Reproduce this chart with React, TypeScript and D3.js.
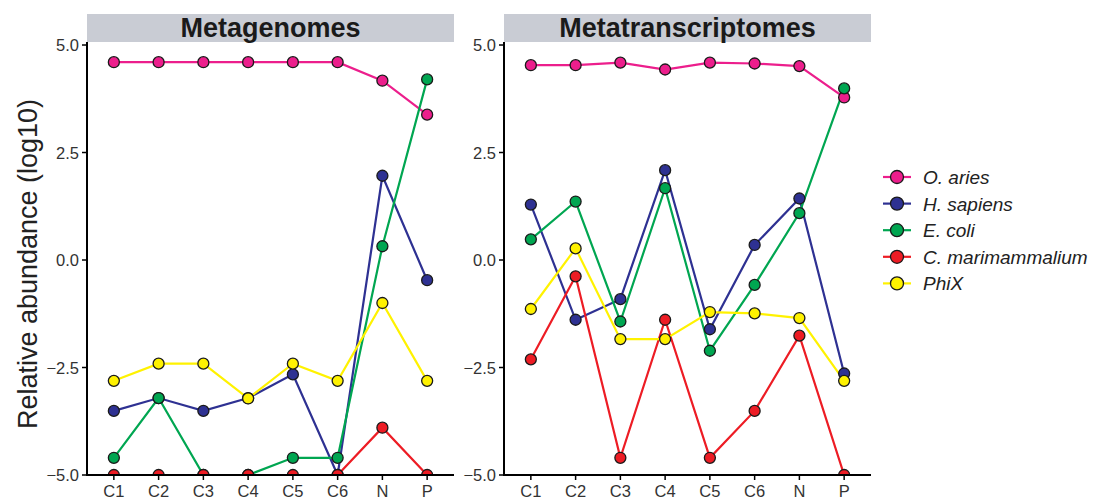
import React from "react";
import * as d3 from "d3";

const categories = ["C1", "C2", "C3", "C4", "C5", "C6", "N", "P"];
const species = ["O. aries", "H. sapiens", "E. coli", "C. marimammalium", "PhiX"];
const colors = ["#EC1E8C", "#2E3192", "#00A651", "#ED1C24", "#FFF200"];
const yTicks = [5.0, 2.5, 0.0, -2.5, -5.0];
const panels = ["Metagenomes", "Metatranscriptomes"];

// Metagenomes
const mgOAries = [4.6, 4.6, 4.6, 4.6, 4.6, 4.6, 4.17, 3.38];
const mgHSapiens = [-3.51, -3.21, -3.51, -3.21, -2.66, -5.0, 1.96, -0.47];
const mgEColi = [-4.6, -3.21, -5.0, -5.0, -4.6, -4.6, 0.32, 4.2];
const mgCMari = [-5.0, -5.0, -5.0, -5.0, -5.0, -5.0, -3.9, -5.0];
const mgPhiX = [-2.81, -2.41, -2.41, -3.22, -2.41, -2.81, -1.0, -2.81];

// Metatranscriptomes
const mtOAries = [4.53, 4.53, 4.59, 4.43, 4.59, 4.57, 4.51, 3.78];
const mtHSapiens = [1.29, -1.39, -0.91, 2.09, -1.61, 0.35, 1.43, -2.64];
const mtEColi = [0.48, 1.36, -1.43, 1.67, -2.11, -0.58, 1.09, 3.99];
const mtCMari = [-2.31, -0.38, -4.6, -1.39, -4.6, -3.51, -1.76, -5.0];
const mtPhiX = [-1.14, 0.27, -1.84, -1.84, -1.21, -1.24, -1.35, -2.81];

const panelData = [
  [mgOAries, mgHSapiens, mgEColi, mgCMari, mgPhiX],
  [mtOAries, mtHSapiens, mtEColi, mtCMari, mtPhiX],
];

const FONT = "'Liberation Sans', Arial, Helvetica, sans-serif";

export default function App() {
  const W = 1093;
  const H = 501;
  const panelLefts = [87, 504];
  const panelW = 367;
  const top = 42;
  const bottom = 475;
  const y = d3.scaleLinear().domain([-5, 5.07]).range([bottom, top]);

  return (
    <svg width={W} height={H} style={{ position: "absolute", left: 0, top: 0, fontFamily: FONT }}>
      <rect width={W} height={H} fill="#fff" />
      <text
        transform={`translate(37,264) rotate(-90)`}
        textAnchor="middle"
        fontSize={27}
        fill="#222"
      >
        Relative abundance (log10)
      </text>
      {panels.map((title, pi) => {
        const left = panelLefts[pi];
        const x = d3
          .scalePoint<string>()
          .domain(categories)
          .range([left, left + panelW])
          .padding(0.6);
        const line = d3
          .line<number>()
          .x((_, i) => x(categories[i]) as number)
          .y((v) => y(v));
        const clipId = `clip${pi}`;
        return (
          <g key={title}>
            <defs>
              <clipPath id={clipId}>
                <rect x={left} y={top} width={panelW} height={bottom - top} />
              </clipPath>
            </defs>
            <rect x={left} y={14} width={panelW} height={28} fill="#C9CCD4" />
            <text
              x={left + panelW / 2}
              y={37}
              textAnchor="middle"
              fontSize={27}
              fontWeight="bold"
              fill="#1a1a1a"
            >
              {title}
            </text>
            <g clipPath={`url(#${clipId})`}>
              {panelData[pi].map((vals, si) => (
                <path key={`l${si}`} d={line(vals) || ""} fill="none" stroke={colors[si]} strokeWidth={2.2} />
              ))}
              {panelData[pi].map((vals, si) =>
                vals.map((v, i) => (
                  <circle
                    key={`p${si}-${i}`}
                    cx={x(categories[i]) as number}
                    cy={y(v)}
                    r={5.5}
                    fill={colors[si]}
                    stroke="#1a1a1a"
                    strokeWidth={1.3}
                  />
                ))
              )}
            </g>
            {/* axes */}
            <line x1={left} x2={left} y1={top} y2={bottom + 1} stroke="#000" strokeWidth={2} />
            <line x1={left - 1} x2={left + panelW} y1={bottom} y2={bottom} stroke="#000" strokeWidth={2} />
            {yTicks.map((t) => (
              <g key={t}>
                <line x1={left - 5} x2={left} y1={y(t)} y2={y(t)} stroke="#000" strokeWidth={1.5} />
                <text x={left - 8} y={y(t) + 6} textAnchor="end" fontSize={16.5} fill="#333">
                  {t.toFixed(1).replace("-", "\u2212")}
                </text>
              </g>
            ))}
            {categories.map((c) => (
              <g key={c}>
                <line
                  x1={x(c) as number}
                  x2={x(c) as number}
                  y1={bottom}
                  y2={bottom + 5}
                  stroke="#000"
                  strokeWidth={1.5}
                />
                <text x={x(c) as number} y={497} textAnchor="middle" fontSize={16.5} fill="#333">
                  {c}
                </text>
              </g>
            ))}
          </g>
        );
      })}
      {/* legend */}
      {species.map((s, i) => {
        const cy = 177 + i * 26.6;
        return (
          <g key={s}>
            <line x1={883} x2={911} y1={cy} y2={cy} stroke={colors[i]} strokeWidth={2.2} />
            <circle cx={897} cy={cy} r={6.5} fill={colors[i]} stroke="#1a1a1a" strokeWidth={1.3} />
            <text x={923} y={cy + 7} fontSize={19} fontStyle="italic" fill="#222">
              {s}
            </text>
          </g>
        );
      })}
    </svg>
  );
}
